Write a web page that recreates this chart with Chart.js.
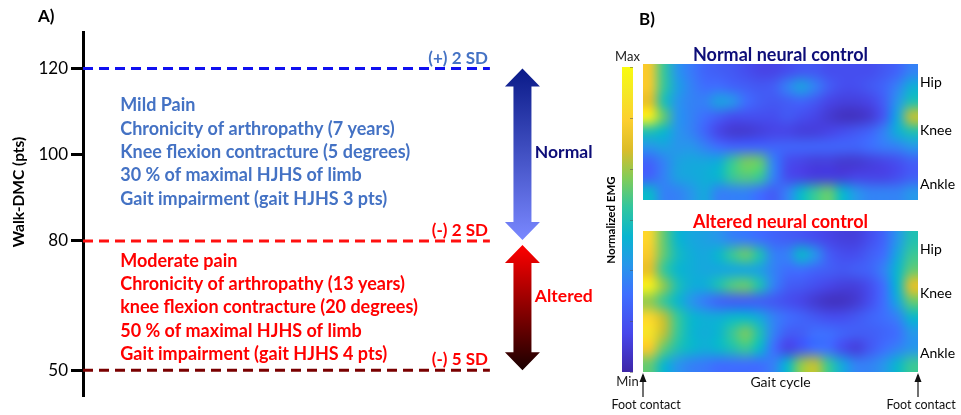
<!DOCTYPE html>
<html><head><meta charset="utf-8">
<title>Walk-DMC and neural control</title>
<script src="https://cdn.jsdelivr.net/npm/chart.js@4.4.7/dist/chart.umd.min.js"></script>
<style>
body{margin:0;background:#fff;width:961px;height:415px;overflow:hidden;position:relative}
canvas{position:absolute}
</style></head><body>
<canvas id="chartA" width="600" height="415" style="left:0;top:0;width:600px;height:415px"></canvas>
<canvas id="cbar" width="50" height="415" style="left:600px;top:0;width:50px;height:415px"></canvas>
<canvas id="heatN" width="361" height="210" style="left:600px;top:0;width:361px;height:210px"></canvas>
<canvas id="heatA" width="361" height="205" style="left:600px;top:210px;width:361px;height:205px"></canvas>
<script>
'use strict';
var FONT = 'Lato, "Open Sans", sans-serif';

// ---- Panel A data ----
var Y_TICKS = [50, 80, 100, 120];
var SD_LEVELS = [120, 80, 50];
var SD_LABELS = ['(+) 2 SD', '(-) 2 SD', '(-) 5 SD'];
var NORMAL_TEXT = [
  'Mild Pain',
  'Chronicity of arthropathy (7 years)',
  'Knee flexion contracture (5 degrees)',
  '30 % of maximal HJHS of limb',
  'Gait impairment (gait HJHS 3 pts)'
];
var ALTERED_TEXT = [
  'Moderate pain',
  'Chronicity of arthropathy (13 years)',
  'knee flexion contracture (20 degrees)',
  '50 % of maximal HJHS of limb',
  'Gait impairment (gait HJHS 4 pts)'
];
var BAND_LABELS = ['Normal', 'Altered'];
var BAND_RANGES = [[120, 80], [80, 50]];

// ---- Panel B data ----
var JOINTS = ['Hip', 'Knee', 'Ankle'];
var JOINT_ROWS_NORMAL = [1.2, 4.4, 8.0];
var JOINT_ROWS_ALTERED = [1.15, 4.0, 7.85];
// normalized EMG, rows = muscles (top -> bottom), cols = gait cycle
var EMG_NORMAL = [
  [0.80,0.55,0.35,0.28,0.22,0.20,0.18,0.15,0.12,0.12,0.15,0.18,0.18,0.15,0.15,0.15,0.15,0.18,0.22,0.30],
  [0.80,0.55,0.38,0.30,0.25,0.25,0.22,0.20,0.18,0.20,0.30,0.38,0.30,0.20,0.15,0.15,0.18,0.22,0.30,0.42],
  [0.75,0.50,0.35,0.30,0.30,0.38,0.35,0.25,0.20,0.18,0.20,0.22,0.18,0.12,0.10,0.10,0.12,0.20,0.35,0.50],
  [0.95,0.60,0.35,0.30,0.25,0.20,0.15,0.15,0.15,0.15,0.18,0.15,0.12,0.08,0.05,0.05,0.08,0.18,0.40,0.70],
  [0.50,0.45,0.35,0.30,0.22,0.12,0.08,0.08,0.10,0.12,0.12,0.10,0.10,0.12,0.15,0.18,0.22,0.30,0.42,0.50],
  [0.35,0.38,0.35,0.35,0.30,0.25,0.22,0.22,0.22,0.22,0.22,0.22,0.22,0.22,0.22,0.22,0.25,0.28,0.30,0.35],
  [0.22,0.30,0.38,0.40,0.40,0.42,0.55,0.62,0.60,0.30,0.15,0.12,0.10,0.10,0.08,0.08,0.10,0.12,0.15,0.20],
  [0.22,0.30,0.38,0.40,0.42,0.45,0.55,0.58,0.55,0.30,0.15,0.12,0.10,0.10,0.10,0.12,0.12,0.12,0.15,0.20],
  [0.45,0.30,0.30,0.35,0.40,0.30,0.30,0.30,0.25,0.20,0.30,0.45,0.55,0.60,0.45,0.35,0.30,0.30,0.30,0.35]
];
var EMG_ALTERED = [
  [0.85,0.60,0.45,0.40,0.38,0.35,0.30,0.28,0.25,0.22,0.20,0.18,0.15,0.12,0.10,0.10,0.15,0.22,0.35,0.50],
  [0.80,0.60,0.48,0.42,0.40,0.45,0.55,0.60,0.50,0.30,0.30,0.45,0.35,0.20,0.15,0.15,0.20,0.25,0.40,0.55],
  [0.75,0.55,0.45,0.42,0.40,0.40,0.40,0.40,0.38,0.30,0.25,0.25,0.22,0.20,0.18,0.20,0.22,0.30,0.45,0.60],
  [0.95,0.65,0.50,0.42,0.42,0.50,0.58,0.60,0.50,0.30,0.20,0.18,0.15,0.12,0.10,0.10,0.15,0.25,0.45,0.75],
  [0.65,0.55,0.45,0.35,0.28,0.22,0.20,0.20,0.20,0.18,0.15,0.12,0.08,0.05,0.05,0.08,0.15,0.25,0.40,0.60],
  [0.85,0.70,0.55,0.45,0.42,0.42,0.45,0.45,0.40,0.30,0.25,0.22,0.18,0.15,0.15,0.18,0.22,0.25,0.30,0.45],
  [0.90,0.70,0.55,0.45,0.42,0.45,0.55,0.62,0.50,0.30,0.20,0.20,0.25,0.25,0.22,0.20,0.20,0.22,0.25,0.35],
  [0.80,0.60,0.50,0.45,0.42,0.45,0.50,0.55,0.45,0.25,0.12,0.18,0.25,0.25,0.15,0.10,0.18,0.25,0.30,0.35],
  [0.60,0.45,0.35,0.30,0.28,0.25,0.25,0.25,0.25,0.30,0.45,0.65,0.70,0.55,0.40,0.30,0.30,0.35,0.45,0.55]
];
// parula colormap stops [position, r, g, b]
var PARULA = [
  [0.000, 62, 38, 168], [0.127, 71, 71, 235], [0.254, 62, 111, 255], [0.349, 39, 150, 235],
  [0.444, 8, 181, 208], [0.540, 49, 198, 159], [0.635, 129, 204, 89], [0.730, 220, 189, 41],
  [0.825, 252, 207, 48], [0.921, 245, 233, 36], [1.000, 249, 251, 14]
];

// ---- styles ----
var SD_COLORS = ['#1010f0', '#ff1010', '#7a0000'];
var SD_TEXT_COLORS = ['#4472c4', '#ff0000', '#ff0000'];
var LINE_END = 78.7;     // x units (0..100)
var ARROW_X = 85;
var BAND_LABEL_X = 87.4;
var NAVY = '#0d0d78';

function parula(t) {
  t = Math.max(0, Math.min(1, t));
  for (var i = 1; i < PARULA.length; i++) {
    if (t <= PARULA[i][0]) {
      var a = PARULA[i - 1], b = PARULA[i];
      var f = (t - a[0]) / (b[0] - a[0]);
      return [a[1] + (b[1] - a[1]) * f, a[2] + (b[2] - a[2]) * f, a[3] + (b[3] - a[3]) * f];
    }
  }
  return PARULA[PARULA.length - 1].slice(1);
}

function drawDoubleArrow(ctx, x, yTop, yBot, c1, c2) {
  var hw = 17.5, sw = 9, hl = 18;
  var g = ctx.createLinearGradient(0, yTop, 0, yBot);
  g.addColorStop(0, c1); g.addColorStop(1, c2);
  ctx.beginPath();
  ctx.moveTo(x, yTop);
  ctx.lineTo(x + hw, yTop + hl); ctx.lineTo(x + sw, yTop + hl);
  ctx.lineTo(x + sw, yBot - hl); ctx.lineTo(x + hw, yBot - hl);
  ctx.lineTo(x, yBot);
  ctx.lineTo(x - hw, yBot - hl); ctx.lineTo(x - sw, yBot - hl);
  ctx.lineTo(x - sw, yTop + hl); ctx.lineTo(x - hw, yTop + hl);
  ctx.closePath();
  ctx.fillStyle = g; ctx.fill();
}

// ---- Panel A ----
var panelA = {
  id: 'panelA',
  afterDraw: function(chart) {
    var ctx = chart.ctx, xs = chart.scales.x, ys = chart.scales.y;
    ctx.save();
    ctx.fillStyle = '#000'; ctx.font = 'bold 17px ' + FONT;
    ctx.textAlign = 'left'; ctx.textBaseline = 'middle';
    ctx.fillText('A)', 38, 17);

    // y axis title
    ctx.save();
    ctx.translate(19, 192); ctx.rotate(-Math.PI / 2);
    ctx.textAlign = 'center'; ctx.font = 'bold 15.5px ' + FONT;
    ctx.fillText('Walk-DMC (pts)', 0, 0);
    ctx.restore();

    // SD labels
    ctx.font = 'bold 17px ' + FONT; ctx.textAlign = 'right'; ctx.textBaseline = 'alphabetic';
    SD_LEVELS.forEach(function(v, i) {
      ctx.fillStyle = SD_TEXT_COLORS[i];
      ctx.fillText(SD_LABELS[i], xs.getPixelForValue(LINE_END) - 2, ys.getPixelForValue(v) - 5);
    });

    // feature lists
    ctx.font = 'bold 18px ' + FONT; ctx.textAlign = 'left'; ctx.textBaseline = 'middle';
    var tx = xs.getPixelForValue(7.2);
    ctx.fillStyle = '#4472c4';
    NORMAL_TEXT.forEach(function(s, i) { ctx.fillText(s, tx, ys.getPixelForValue(120) + 37 + i * 23.3); });
    ctx.fillStyle = '#ff0000';
    ALTERED_TEXT.forEach(function(s, i) { ctx.fillText(s, tx, ys.getPixelForValue(80) + 20 + i * 23.3); });

    // arrows
    var ax = xs.getPixelForValue(ARROW_X);
    drawDoubleArrow(ctx, ax, ys.getPixelForValue(BAND_RANGES[0][0]), ys.getPixelForValue(BAND_RANGES[0][1]) - 1, '#0a1a88', '#7a88ff');
    drawDoubleArrow(ctx, ax, ys.getPixelForValue(BAND_RANGES[1][0]) + 4, ys.getPixelForValue(BAND_RANGES[1][1]), '#ff0000', '#1a0000');

    ctx.font = 'bold 17.5px ' + FONT; ctx.textBaseline = 'middle';
    var lx = xs.getPixelForValue(BAND_LABEL_X);
    ctx.fillStyle = NAVY;
    ctx.fillText(BAND_LABELS[0], lx, ys.getPixelForValue(100.6));
    ctx.fillStyle = '#ff0000';
    ctx.fillText(BAND_LABELS[1], lx, ys.getPixelForValue(67.2));
    ctx.restore();
  }
};

new Chart(document.getElementById('chartA'), {
  type: 'line',
  data: {
    datasets: SD_LEVELS.map(function(v, i) {
      return {
        data: [{x: 0, y: v}, {x: LINE_END, y: v}],
        borderColor: SD_COLORS[i], borderWidth: 3, borderDash: [10, 6],
        pointRadius: 0, fill: false
      };
    })
  },
  options: {
    responsive: false, animation: false, devicePixelRatio: 1,
    layout: {padding: {top: 32, bottom: 19, left: 0, right: 0}},
    plugins: {legend: {display: false}, tooltip: {enabled: false}},
    scales: {
      x: {type: 'linear', min: 0, max: 100, display: false},
      y: {
        type: 'linear', min: 44, max: 128.5,
        afterFit: function(s) { s.width = 83; },
        afterBuildTicks: function(s) { s.ticks = Y_TICKS.map(function(v) { return {value: v}; }); },
        ticks: {color: '#000', font: {family: FONT, size: 17}, padding: 3},
        grid: {drawOnChartArea: false, tickLength: 12, tickWidth: 3, tickColor: '#000'},
        border: {color: '#000', width: 3}
      }
    }
  },
  plugins: [panelA]
});

// ---- Colorbar ----
new Chart(document.getElementById('cbar'), {
  type: 'scatter',
  data: {datasets: []},
  options: {
    responsive: false, animation: false, devicePixelRatio: 1,
    layout: {padding: {top: 67, bottom: 43, left: 22, right: 17}},
    plugins: {legend: {display: false}, tooltip: {enabled: false}},
    scales: {x: {display: false, min: 0, max: 1}, y: {display: false, min: 0, max: 1}}
  },
  plugins: [{
    id: 'cbar',
    afterDraw: function(chart) {
      var ctx = chart.ctx, a = chart.chartArea, ys = chart.scales.y;
      var g = ctx.createLinearGradient(0, ys.getPixelForValue(0), 0, ys.getPixelForValue(1));
      PARULA.forEach(function(s) { g.addColorStop(s[0], 'rgb(' + s[1] + ',' + s[2] + ',' + s[3] + ')'); });
      ctx.save();
      ctx.fillStyle = g;
      ctx.fillRect(a.left, a.top, a.right - a.left, a.bottom - a.top);
      // faint tick marks
      ctx.strokeStyle = 'rgba(80,80,80,0.5)'; ctx.lineWidth = 1;
      for (var t = 0; t <= 1.0001; t += 1 / 6) {
        var y = Math.round(ys.getPixelForValue(t)) + 0.5;
        ctx.beginPath(); ctx.moveTo(a.right - 3, y); ctx.lineTo(a.right, y); ctx.stroke();
      }
      ctx.fillStyle = '#222'; ctx.font = '13px ' + FONT; ctx.textAlign = 'center'; ctx.textBaseline = 'middle';
      ctx.fillText('Max', (a.left + a.right) / 2, a.top - 10);
      ctx.fillText('Min', (a.left + a.right) / 2, a.bottom + 10);
      ctx.translate(11, 220); ctx.rotate(-Math.PI / 2);
      ctx.fillStyle = '#000'; ctx.font = 'bold 11.5px ' + FONT;
      ctx.fillText('Normalized EMG', 0, 0);
      ctx.restore();
    }
  }]
});

// ---- Heatmaps ----
function heatPlugin(grid, title, titleColor, extra) {
  return {
    id: 'heat',
    beforeDatasetsDraw: function(chart) {
      var ctx = chart.ctx, xs = chart.scales.x, ys = chart.scales.y;
      var rows = grid.length, cols = grid[0].length;
      var off = document.createElement('canvas');
      off.width = cols; off.height = rows;
      var octx = off.getContext('2d');
      var img = octx.createImageData(cols, rows);
      for (var r = 0; r < rows; r++) {
        for (var c = 0; c < cols; c++) {
          var col = parula(grid[r][c]), k = (r * cols + c) * 4;
          img.data[k] = col[0]; img.data[k + 1] = col[1]; img.data[k + 2] = col[2]; img.data[k + 3] = 255;
        }
      }
      octx.putImageData(img, 0, 0);
      var x0 = xs.getPixelForValue(0), x1 = xs.getPixelForValue(cols);
      var y0 = ys.getPixelForValue(0), y1 = ys.getPixelForValue(rows);
      ctx.save();
      ctx.imageSmoothingEnabled = true; ctx.imageSmoothingQuality = 'high';
      ctx.drawImage(off, x0, y0, x1 - x0, y1 - y0);
      ctx.fillStyle = titleColor; ctx.font = 'bold 18px ' + FONT;
      ctx.textAlign = 'center'; ctx.textBaseline = 'middle';
      ctx.fillText(title, (x0 + x1) / 2, y0 - 9);
      if (extra) extra(chart, ctx, x0, x1, y0, y1);
      ctx.restore();
    }
  };
}

function heatOptions(rows, cols, jointRows, pad) {
  return {
    responsive: false, animation: false, devicePixelRatio: 1,
    layout: {padding: pad},
    plugins: {legend: {display: false}, tooltip: {enabled: false}},
    scales: {
      x: {type: 'linear', min: 0, max: cols, display: false},
      y: {
        type: 'linear', min: 0, max: rows, reverse: true, position: 'right',
        afterFit: function(s) { s.width = 43; },
        afterBuildTicks: function(s) { s.ticks = jointRows.map(function(v) { return {value: v}; }); },
        ticks: {autoSkip: false, padding: 2, color: '#000', font: {family: FONT, size: 14},
          callback: function(v, i) { return JOINTS[i]; }},
        grid: {display: false, drawTicks: false, tickLength: 0}, border: {display: false}
      }
    }
  };
}

new Chart(document.getElementById('heatN'), {
  type: 'scatter', data: {datasets: []},
  options: heatOptions(EMG_NORMAL.length, EMG_NORMAL[0].length, JOINT_ROWS_NORMAL, {top: 64, bottom: 5, left: 43, right: 0}),
  plugins: [heatPlugin(EMG_NORMAL, 'Normal neural control', NAVY, function(chart, ctx) {
    ctx.fillStyle = '#000'; ctx.font = 'bold 17px ' + FONT; ctx.textAlign = 'left';
    ctx.fillText('B)', 39, 20);
  })]
});

new Chart(document.getElementById('heatA'), {
  type: 'scatter', data: {datasets: []},
  options: heatOptions(EMG_ALTERED.length, EMG_ALTERED[0].length, JOINT_ROWS_ALTERED, {top: 21, bottom: 43, left: 43, right: 0}),
  plugins: [heatPlugin(EMG_ALTERED, 'Altered neural control', '#ff0000', function(chart, ctx, x0, x1, y0, y1) {
    ctx.fillStyle = '#111'; ctx.font = '14px ' + FONT; ctx.textAlign = 'center'; ctx.textBaseline = 'middle';
    ctx.fillText('Gait cycle', (x0 + x1) / 2, y1 + 10);
    ctx.font = '12.5px ' + FONT;
    [x0, x1].forEach(function(x, i) {
      ctx.strokeStyle = '#111'; ctx.lineWidth = 1.2;
      ctx.beginPath(); ctx.moveTo(x, y1 + 25); ctx.lineTo(x, y1 + 3); ctx.stroke();
      ctx.beginPath(); ctx.moveTo(x, y1 + 1); ctx.lineTo(x - 3.5, y1 + 10); ctx.lineTo(x + 3.5, y1 + 10); ctx.closePath();
      ctx.fillStyle = '#111'; ctx.fill();
      ctx.fillText('Foot contact', x + (i ? 3 : 3), y1 + 33);
    });
  })]
});
</script>
</body></html>
